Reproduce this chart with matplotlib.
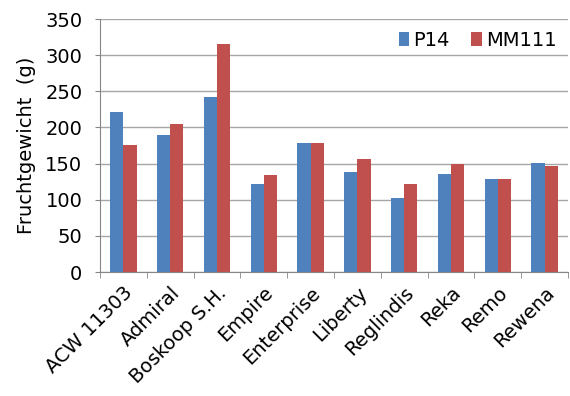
import matplotlib
matplotlib.use("Agg")
import matplotlib.pyplot as plt
import numpy as np
from matplotlib.ticker import FixedLocator

categories = ["ACW 11303", "Admiral", "Boskoop S.H.", "Empire", "Enterprise",
              "Liberty", "Reglindis", "Reka", "Remo", "Rewena"]
p14 = [221, 190, 242, 122, 179, 138, 102, 135, 129, 151]
mm111 = [176, 205, 316, 134, 178, 156, 122, 149, 129, 146]
series_names = ["P14", "MM111"]
yticks = [0, 50, 100, 150, 200, 250, 300, 350]

plt.rcParams['font.family'] = ['DejaVu Sans']
FS = 14

fig = plt.figure(figsize=(5.70, 3.96), dpi=100)
ax = fig.add_axes([0.1754, 0.3131, 0.8211, 0.6389])

x = np.arange(len(categories))
w = 0.283
ax.bar(x - w/2, p14, width=w, color="#4F81BD", label=series_names[0], zorder=3)
ax.bar(x + w/2, mm111, width=w, color="#C0504D", label=series_names[1], zorder=3)

ax.set_xlim(-0.5, len(categories) - 0.5)
ax.set_ylim(0, 350)
ax.set_yticks(yticks)
ax.set_yticklabels([str(t) for t in yticks], fontsize=FS)
ax.yaxis.grid(True, color="#A6A6A6", linewidth=1, zorder=0)
ax.set_axisbelow(True)

ax.set_xticks(x)
ax.set_xticklabels(categories, rotation=45, ha="right", rotation_mode="anchor", fontsize=FS)
ax.tick_params(axis='x', which='major', length=0, pad=8)
ax.xaxis.set_minor_locator(FixedLocator(np.arange(-0.5, len(categories) + 0.5, 1)))
ax.tick_params(axis='x', which='minor', length=4, color="#868686", direction='out')
ax.tick_params(axis='y', length=3.6, color="#868686", pad=9)

for s in ["top", "right"]:
    ax.spines[s].set_visible(False)
for s in ["left", "bottom"]:
    ax.spines[s].set_color("#868686")

ax.set_ylabel("Fruchtgewicht  (g)", fontsize=FS, labelpad=7)

ax.legend(loc="upper right", frameon=False, fontsize=FS, handlelength=0.55,
          handleheight=0.7, handletextpad=0.2, columnspacing=1.1, ncol=2,
          bbox_to_anchor=(1.0, 1.0), borderaxespad=0.2)

fig.savefig("out.png", dpi=100)
